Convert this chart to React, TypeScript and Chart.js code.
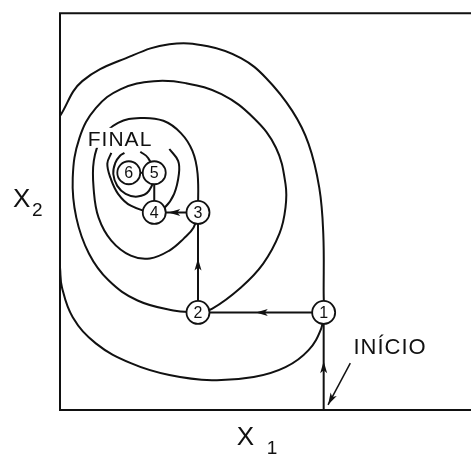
import React, { useEffect, useRef } from "react";
import { Chart, registerables } from "chart.js";

Chart.register(...registerables);

// Search path (X1, X2) from INÍCIO to FINAL
const pathX = [6.63, 6.63, 3.47, 3.47, 2.37, 2.37, 1.73];
const pathY = [0, 2.46, 2.46, 4.98, 4.98, 5.98, 5.98];
const stepLabels = ["", "1", "2", "3", "4", "5", "6"];
const arrowSegments = [0, 1, 2, 3];
const arrowFractions = [0.5, 0.54, 0.54, 0.68];

// Contour through point 1
const contour1X = [0, 0.56, 1.78, 2.75, 3.72, 4.55, 5.18, 5.84, 6.25, 6.52, 6.62, 6.63, 6.63, 6.57, 6.25, 5.67, 4.87, 3.82, 2.75, 1.78, 0.9, 0.32, 0.05, 0];
const contour1Y = [7.41, 8.29, 8.92, 9.22, 9.17, 8.87, 8.37, 7.54, 6.71, 5.6, 4.45, 2.94, 2.46, 2.06, 1.51, 1.08, 0.83, 0.75, 0.88, 1.18, 1.68, 2.34, 3.09, 3.59];

// Contour through point 2
const contour2X = [3.47, 2.85, 1.95, 1.22, 0.73, 0.41, 0.32, 0.49, 0.9, 1.53, 2.36, 3.16, 4.06, 4.87, 5.43, 5.67, 5.67, 5.52, 5.11, 4.55, 3.82, 3.47];
const contour2Y = [2.46, 2.51, 2.76, 3.27, 3.94, 4.85, 5.85, 6.86, 7.61, 8.09, 8.29, 8.24, 7.96, 7.36, 6.61, 5.7, 5.1, 4.45, 3.69, 3.09, 2.55, 2.46];

// Contour through point 3
const contour3X = [3.47, 3.46, 3.33, 3.04, 2.6, 2.02, 1.46, 1.05, 0.85, 0.85, 0.97, 1.29, 1.78, 2.26, 2.75, 3.11, 3.36, 3.47];
const contour3Y = [4.98, 5.95, 6.53, 6.98, 7.29, 7.36, 7.24, 6.86, 6.28, 5.53, 4.85, 4.27, 3.89, 3.82, 4.02, 4.32, 4.6, 4.98];

// Contour through point 4 (open at the top)
const contour4X = [1.29, 1.19, 1.27, 1.46, 1.78, 2.37, 2.63, 2.87, 2.99, 2.97, 2.75];
const contour4Y = [6.48, 6.21, 5.85, 5.45, 5.15, 4.98, 5.1, 5.45, 5.95, 6.28, 6.58];

// Contour through point 5 (around point 6)
const contour5X = [2.02, 2.21, 2.37, 2.24, 1.95, 1.65, 1.44, 1.34, 1.39, 1.51, 1.62];
const contour5Y = [6.51, 6.36, 5.98, 5.53, 5.38, 5.45, 5.65, 5.95, 6.23, 6.41, 6.48];

// Text annotations
const finalLabel = "FINAL";
const finalPos = [1.51, 6.81];
const startLabel = "INÍCIO";
const startLabelPos = [8.3, 1.56];
const startPointerX = [7.3, 6.74];
const startPointerY = [1.18, 0.13];
const xAxisTitle = ["X", "1"];
const yAxisTitle = ["X", "2"];

const toPoints = (xs: number[], ys: number[]) => xs.map((x, i) => ({ x, y: ys[i] }));

const FONT = "'Liberation Sans', Arial, Helvetica, sans-serif";

function drawArrowHead(ctx: CanvasRenderingContext2D, tx: number, ty: number, dx: number, dy: number, len: number, half: number) {
  const d = Math.hypot(dx, dy) || 1;
  const ux = dx / d, uy = dy / d;
  const nx = -uy, ny = ux;
  ctx.beginPath();
  ctx.moveTo(tx, ty);
  ctx.lineTo(tx - ux * len + nx * half, ty - uy * len + ny * half);
  ctx.lineTo(tx - ux * len * 0.75, ty - uy * len * 0.75);
  ctx.lineTo(tx - ux * len - nx * half, ty - uy * len - ny * half);
  ctx.closePath();
  ctx.fill();
}

const overlayPlugin = {
  id: "overlay",
  beforeDatasetsDraw(chart: any) {
    const { ctx, chartArea } = chart;
    ctx.save();
    ctx.strokeStyle = "#111";
    ctx.lineWidth = 2;
    ctx.beginPath();
    ctx.moveTo(chart.width, chartArea.top);
    ctx.lineTo(chartArea.left, chartArea.top);
    ctx.lineTo(chartArea.left, chartArea.bottom);
    ctx.lineTo(chart.width, chartArea.bottom);
    ctx.stroke();
    ctx.restore();
  },
  afterDatasetsDraw(chart: any) {
    const { ctx, chartArea } = chart;
    const xs = chart.scales.x;
    const ys = chart.scales.y;
    const px = (v: number) => xs.getPixelForValue(v);
    const py = (v: number) => ys.getPixelForValue(v);
    ctx.save();
    ctx.fillStyle = "#111";
    ctx.strokeStyle = "#111";

    // arrowheads on path
    arrowSegments.forEach((s, i) => {
      const x0 = px(pathX[s]), y0 = py(pathY[s]);
      const x1 = px(pathX[s + 1]), y1 = py(pathY[s + 1]);
      const f = arrowFractions[i];
      drawArrowHead(ctx, x0 + (x1 - x0) * f, y0 + (y1 - y0) * f, x1 - x0, y1 - y0, 12, 3.5);
    });

    // numbers in circles
    const meta = chart.getDatasetMeta(0);
    ctx.font = `16px ${FONT}`;
    ctx.textAlign = "center";
    ctx.textBaseline = "middle";
    meta.data.forEach((el: any, i: number) => {
      if (stepLabels[i]) ctx.fillText(stepLabels[i], el.x, el.y + 1);
    });

    // INÍCIO pointer
    const sx0 = px(startPointerX[0]), sy0 = py(startPointerY[0]);
    const sx1 = px(startPointerX[1]), sy1 = py(startPointerY[1]);
    ctx.lineWidth = 1.5;
    ctx.beginPath();
    ctx.moveTo(sx0, sy0);
    ctx.lineTo(sx1, sy1);
    ctx.stroke();
    drawArrowHead(ctx, sx1, sy1, sx1 - sx0, sy1 - sy0, 12, 3.5);

    // FINAL label, with a white knock-out behind it
    const fx = px(finalPos[0]), fy = py(finalPos[1]);
    ctx.font = `21px ${FONT}`;
    (ctx as any).letterSpacing = "1px";
    const fw = ctx.measureText(finalLabel).width;
    ctx.fillStyle = "#fff";
    ctx.fillRect(fx - fw / 2 - 3, fy - 12, fw + 6, 20);
    ctx.fillStyle = "#111";
    ctx.fillText(finalLabel, fx, fy);
    ctx.font = `22px ${FONT}`;
    (ctx as any).letterSpacing = "1px";
    ctx.fillText(startLabel, px(startLabelPos[0]), py(startLabelPos[1]));
    (ctx as any).letterSpacing = "0px";

    // axis titles
    ctx.textAlign = "left";
    ctx.textBaseline = "alphabetic";
    const yt = chartArea.top + (chartArea.bottom - chartArea.top) * 0.485;
    ctx.font = `26px ${FONT}`;
    ctx.fillText(yAxisTitle[0], chartArea.left - 47, yt + 1);
    ctx.font = `19px ${FONT}`;
    ctx.fillText(yAxisTitle[1], chartArea.left - 28, yt + 10);

    const xc = (chartArea.left + chartArea.right) / 2;
    ctx.font = `26px ${FONT}`;
    ctx.fillText(xAxisTitle[0], xc - 22, chartArea.bottom + 35);
    ctx.font = `19px ${FONT}`;
    ctx.fillText(xAxisTitle[1], xc + 8, chartArea.bottom + 44);
    ctx.restore();
  },
};

export default function App() {
  const ref = useRef<HTMLCanvasElement | null>(null);
  useEffect(() => {
    if (!ref.current) return;
    const contourStyle = {
      showLine: true,
      borderColor: "#111",
      borderWidth: 2,
      pointRadius: 0,
      tension: 0.4,
      fill: false,
      order: 3,
      clip: false as any,
    };
    const chart = new Chart(ref.current, {
      type: "scatter",
      data: {
        datasets: [
          {
            label: "passos",
            data: toPoints(pathX, pathY),
            showLine: true,
            tension: 0,
            borderColor: "#111",
            borderWidth: 2,
            pointRadius: stepLabels.map((l) => (l ? 11.5 : 0)),
            pointBackgroundColor: "#fff",
            pointBorderColor: "#111",
            pointBorderWidth: 1.8,
            order: 1,
            clip: false as any,
          },
          { label: "c1", data: toPoints(contour1X, contour1Y), ...contourStyle },
          { label: "c2", data: toPoints(contour2X, contour2Y), ...contourStyle },
          { label: "c3", data: toPoints(contour3X, contour3Y), ...contourStyle },
          { label: "c4", data: toPoints(contour4X, contour4Y), ...contourStyle },
          { label: "c5", data: toPoints(contour5X, contour5Y), ...contourStyle },
        ],
      },
      options: {
        responsive: false,
        animation: false,
        layout: { padding: { left: 60, top: 12, right: 0, bottom: 44 } },
        scales: {
          x: { type: "linear", min: 0, max: 10, display: false },
          y: { type: "linear", min: 0, max: 10, display: false },
        },
        plugins: {
          legend: { display: false },
          tooltip: { enabled: false },
          title: { display: false },
        },
        events: [],
      },
      plugins: [overlayPlugin],
    });
    return () => chart.destroy();
  }, []);
  return (
    <div style={{ position: "fixed", left: 0, top: 0, width: 471, height: 454, background: "#fff" }}>
      <canvas ref={ref} width={471} height={454} style={{ display: "block" }} />
    </div>
  );
}
